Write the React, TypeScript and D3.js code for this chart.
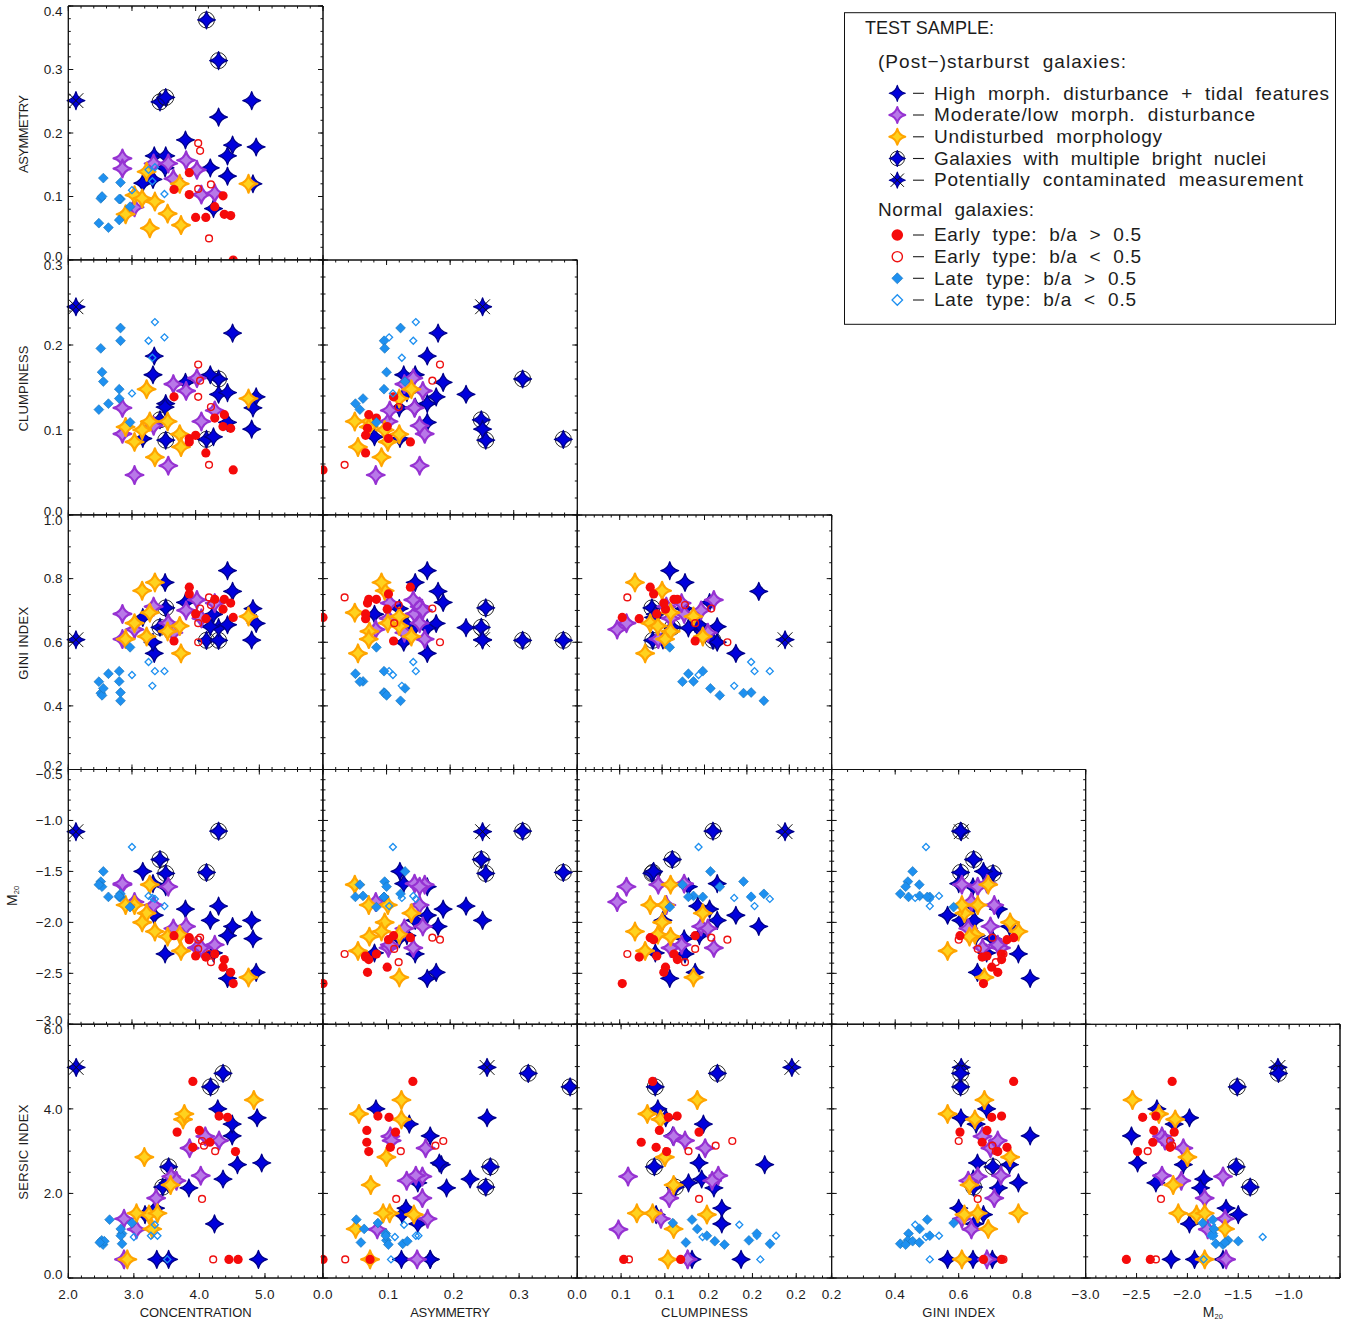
import { useEffect, useRef } from 'react';
import * as d3 from 'd3';

// galaxies are listed class by class, same order in every array
const classCounts: [string, number][] = [
	['contaminated', 1], ['nuclei', 4], ['high', 15], ['moderate', 10], ['undisturbed', 10],
	['earlyRound', 10], ['earlyThin', 5], ['lateRound', 10], ['lateThin', 5],
];

const concentration = [
	2.12,
	4.17, 4.36, 3.44, 3.53,
	4.88, 4.36, 3.84, 4.58, 4.95, 4.50, 3.35, 3.53, 4.23, 4.50, 3.52, 3.17, 3.33, 4.90, 4.28,
	2.85, 2.85, 3.34, 3.57, 3.85, 4.02, 3.65, 4.09, 4.30, 3.04,
	3.23, 3.04, 3.16, 3.36, 3.75, 4.83, 3.56, 2.90, 3.28, 3.77,
	3.90, 3.66, 3.90, 4.43, 4.30, 4.00, 4.16, 4.45, 4.55, 4.59,
	4.04, 4.07, 4.24, 4.04, 4.21,
	2.82, 2.82, 2.51, 2.53, 2.55, 2.80, 2.80, 2.63, 2.48, 2.97,
	3.00, 3.26, 3.36, 3.32, 3.51,
];
const asymmetry = [
	0.251,
	0.378, 0.314, 0.249, 0.256,
	0.251, 0.225, 0.189, 0.181, 0.178, 0.164, 0.164, 0.164, 0.145, 0.132, 0.145, 0.121, 0.127, 0.120, 0.081,
	0.160, 0.144, 0.152, 0.152, 0.157, 0.142, 0.128, 0.103, 0.105, 0.083,
	0.139, 0.102, 0.097, 0.092, 0.120, 0.120, 0.073, 0.072, 0.050, 0.055,
	0.1375, 0.111, 0.103, 0.101, 0.084, 0.067, 0.067, 0.072, 0.070, 0.0,
	0.184, 0.172, 0.119, 0.112, 0.034,
	0.122, 0.096, 0.097, 0.100, 0.129, 0.096, 0.063, 0.051, 0.058, 0.084,
	0.110, 0.142, 0.146, 0.124, 0.104,
];
const clumpiness = [
	0.245,
	0.089, 0.160, 0.112, 0.088,
	0.101, 0.142, 0.156, 0.214, 0.139, 0.109, 0.187, 0.131, 0.165, 0.144, 0.127, 0.090, 0.165, 0.126, 0.092,
	0.0955, 0.126, 0.105, 0.058, 0.146, 0.161, 0.154, 0.110, 0.123, 0.047,
	0.148, 0.086, 0.100, 0.068, 0.095, 0.137, 0.110, 0.1035, 0.110, 0.080,
	0.086, 0.139, 0.090, 0.104, 0.114, 0.0937, 0.073, 0.118, 0.102, 0.053,
	0.177, 0.158, 0.127, 0.139, 0.059,
	0.220, 0.205, 0.196, 0.168, 0.157, 0.148, 0.137, 0.131, 0.124, 0.109,
	0.143, 0.205, 0.227, 0.185, 0.209,
];
const gini = [
	0.608,
	0.606, 0.606, 0.647, 0.708,
	0.607, 0.646, 0.725, 0.760, 0.659, 0.825, 0.565, 0.645, 0.649, 0.655, 0.788, 0.678, 0.600, 0.706, 0.688,
	0.610, 0.689, 0.712, 0.660, 0.700, 0.733, 0.630, 0.675, 0.723, 0.640,
	0.618, 0.660, 0.762, 0.788, 0.651, 0.681, 0.634, 0.610, 0.693, 0.565,
	0.773, 0.604, 0.752, 0.704, 0.735, 0.689, 0.674, 0.735, 0.723, 0.678,
	0.600, 0.706, 0.717, 0.660, 0.741,
	0.416, 0.442, 0.440, 0.433, 0.455, 0.509, 0.477, 0.501, 0.476, 0.584,
	0.497, 0.538, 0.509, 0.463, 0.509,
];
const m20 = [
	-1.11,
	-1.51, -1.105, -1.383, -1.52,
	-1.98, -1.84, -1.87, -2.04, -2.49, -2.55, -1.93, -1.65, -1.98, -2.13, -2.31, -1.50, -1.62, -2.16, -2.30,
	-1.63, -1.62, -1.83, -1.65, -2.04, -2.25, -2.06, -2.25, -2.22, -1.80,
	-1.91, -1.83, -2.00, -2.09, -2.12, -2.54, -2.14, -1.83, -1.63, -2.28,
	-2.15, -2.13, -2.17, -2.44, -2.31, -2.33, -2.34, -2.365, -2.49, -2.60,
	-2.17, -2.15, -2.39, -2.26, -2.31,
	-1.72, -1.75, -1.60, -1.65, -1.50, -1.75, -1.74, -1.75, -1.63, -1.85,
	-1.26, -1.74, -1.77, -1.76, -1.84,
];
const sersic = [
	4.98,
	4.52, 4.84, 2.15, 2.63,
	3.79, 2.34, 2.13, 2.68, 2.72, 3.36, 0.44, 0.44, 1.28, 3.64, 2.25, 1.50, 1.65, 0.44, 4.00,
	1.40, 0.44, 1.89, 2.40, 3.07, 2.42, 2.30, 3.35, 3.25, 1.15,
	1.50, 1.53, 2.86, 1.53, 3.75, 4.21, 2.20, 0.44, 1.16, 3.88,
	4.65, 3.45, 3.09, 3.80, 3.83, 3.49, 3.21, 0.44, 2.99, 0.44,
	3.24, 3.13, 3.00, 1.87, 0.44,
	0.81, 1.05, 0.89, 0.79, 0.87, 1.00, 1.16, 1.38, 0.84, 1.30,
	0.97, 1.00, 1.00, 1.26, 0.44,
];

const kinds = classCounts.flatMap(([k, n]) => d3.range(n).map(() => k));

const colVars = [
	{ values: concentration, domain: [2, 6], last: [2, 5.885], major: d3.range(2, 6.01, 1), minor: d3.range(2, 6.01, 0.2), labels: ['2.0', '3.0', '4.0', '5.0', ''], title: 'CONCENTRATION', titleW: 112 },
	{ values: asymmetry, domain: [0, 0.4], last: [0, 0.389], major: d3.range(0, 0.401, 0.1), minor: d3.range(0, 0.401, 0.02), labels: ['0.0', '0.1', '0.2', '0.3', ''], title: 'ASYMMETRY', titleW: 80 },
	{ values: clumpiness, domain: [0, 0.3], last: [0, 0.2905], major: d3.range(0, 0.301, 0.05), minor: d3.range(0, 0.301, 0.01), labels: ['0.0', '0.1', '0.1', '0.2', '0.2', '0.2', ''], title: 'CLUMPINESS', titleW: 87 },
	{ values: gini, domain: [0.2, 1], last: [0.2, 1], major: d3.range(0.2, 1.01, 0.2), minor: d3.range(0.2, 1.01, 0.05), labels: ['0.2', '0.4', '0.6', '0.8', ''], title: 'GINI INDEX', titleW: 73 },
	{ values: m20, domain: [-3, -0.5], last: [-3, -0.5], major: d3.range(-3, -0.49, 0.5), minor: d3.range(-3, -0.49, 0.1), labels: ['\u22123.0', '\u22122.5', '\u22122.0', '\u22121.5', '\u22121.0', ''], title: 'M20', titleW: 0 },
];

const rowVars = [
	{ values: asymmetry, domain: [0, 0.4], major: d3.range(0, 0.401, 0.1), minor: d3.range(0, 0.401, 0.02), labels: ['0.0', '0.1', '0.2', '0.3', '0.4'], title: 'ASYMMETRY', titleH: 78 },
	{ values: clumpiness, domain: [0, 0.3], major: d3.range(0, 0.301, 0.1), minor: d3.range(0, 0.301, 0.02), labels: ['0.0', '0.1', '0.2', '0.3'], title: 'CLUMPINESS', titleH: 86 },
	{ values: gini, domain: [0.2, 1], major: d3.range(0.2, 1.01, 0.2), minor: d3.range(0.2, 1.01, 0.05), labels: ['0.2', '0.4', '0.6', '0.8', '1.0'], title: 'GINI INDEX', titleH: 73 },
	{ values: m20, domain: [-3, -0.5], major: d3.range(-3, -0.49, 0.5), minor: d3.range(-3, -0.49, 0.1), labels: ['\u22123.0', '\u22122.5', '\u22122.0', '\u22121.5', '\u22121.0', '\u22120.5'], title: 'M20', titleH: 0 },
	{ values: sersic, domain: [0, 6], major: d3.range(0, 6.01, 2), minor: d3.range(0, 6.01, 0.5), labels: ['0.0', '2.0', '4.0', '6.0'], title: 'SERSIC INDEX', titleH: 95 },
];

const colEdges = [68.3, 323, 577.3, 831.7, 1085.7, 1340];
const rowEdges = [6, 260, 515, 769.5, 1024.3, 1278];

const FONT = '"Liberation Sans", sans-serif';
const INK = '#1c1c1c';

// four pointed star with concave sides, for d3.symbol
const starType = {
	draw(ctx: any, size: number) {
		const r = Math.sqrt(size);
		const c = r * 0.2;
		ctx.moveTo(0, -r);
		ctx.quadraticCurveTo(c, -c, r, 0);
		ctx.quadraticCurveTo(c, c, 0, r);
		ctx.quadraticCurveTo(-c, c, -r, 0);
		ctx.quadraticCurveTo(-c, -c, 0, -r);
		ctx.closePath();
	},
};

const starStyle: Record<string, { fill: string; stroke: string; width: number }> = {
	high: { fill: '#0000dc', stroke: '#00008b', width: 1.3 },
	moderate: { fill: '#b878e8', stroke: '#9632d2', width: 2.2 },
	undisturbed: { fill: '#ffd21e', stroke: '#ffa500', width: 2.2 },
};

// the legend draws circles and diamonds bigger than the panels do
const legendDot: Record<string, number> = { earlyRound: 1.26, earlyThin: 1.5, lateRound: 1.12, lateThin: 1.5 };

function drawMark(g: any, kind: string, x: number, y: number, k = 1, dot = 1) {
	const m = g.append('g').attr('transform', `translate(${x},${y})`);
	const star = (style: { fill: string; stroke: string; width: number }) => m.append('path')
		.attr('d', d3.symbol().type(starType as any).size((8.9 * k) ** 2)())
		.attr('fill', style.fill)
		.attr('stroke', style.stroke)
		.attr('stroke-width', style.width * k)
		.attr('stroke-linejoin', 'round');

	if (kind === 'nuclei') {
		m.append('circle').attr('r', 8 * k).attr('fill', 'none').attr('stroke', '#111').attr('stroke-width', 0.9);
		star(starStyle.high);
	} else if (kind === 'contaminated') {
		star(starStyle.high);
		const d = 7.4 * k;
		[[-d, -d, d, d], [-d, d, d, -d]].forEach(l => {
			m.append('line').attr('x1', l[0]).attr('y1', l[1]).attr('x2', l[2]).attr('y2', l[3])
				.attr('stroke', '#111').attr('stroke-width', 1);
		});
	} else if (starStyle[kind]) {
		star(starStyle[kind]);
	} else if (kind === 'earlyRound') {
		m.append('circle').attr('r', 4.6 * dot).attr('fill', '#f50a0a');
	} else if (kind === 'earlyThin') {
		m.append('circle').attr('r', 3.4 * dot).attr('fill', 'none').attr('stroke', '#ee1111').attr('stroke-width', 1.4);
	} else if (kind === 'lateRound') {
		const d = 4.9 * dot;
		m.append('path')
			.attr('d', d3.symbol().type(d3.symbolSquare).size(2 * d * d)())
			.attr('transform', 'rotate(45)')
			.attr('fill', '#1e90f0').attr('stroke', '#1874b8').attr('stroke-width', 0.6);
	} else if (kind === 'lateThin') {
		const d = 3.5 * dot;
		m.append('path')
			.attr('d', d3.symbol().type(d3.symbolSquare).size(2 * d * d)())
			.attr('transform', 'rotate(45)')
			.attr('fill', 'none').attr('stroke', '#1e90f0').attr('stroke-width', 1.3);
	}
}

function label(g: any, text: string, x: number, y: number, size: number, anchor = 'start', width?: number) {
	const t = g.append('text')
		.attr('x', x).attr('y', y)
		.attr('font-family', FONT).attr('font-size', size)
		.attr('text-anchor', anchor).attr('fill', INK)
		.style('white-space', 'pre')
		.text(text);
	if (width) t.attr('textLength', width).attr('lengthAdjust', 'spacing');
	return t;
}

function m20Label(g: any, x: number, y: number) {
	const t = g.append('text').attr('font-family', FONT).attr('fill', INK).attr('text-anchor', 'middle')
		.attr('x', x).attr('y', y).attr('font-size', 14);
	t.append('tspan').text('M');
	t.append('tspan').attr('font-size', 7.5).attr('dy', 2).text('20');
	return t;
}

function edgeAxis(g: any, axis: any, scale: any, major: number[], minor: number[], tx: number, ty: number) {
	const [lo, hi] = scale.domain();
	[[minor, 2.5], [major, 5]].forEach(([vals, len]: any) => {
		g.append('g').attr('transform', `translate(${tx},${ty})`)
			.call(axis(scale).tickValues(vals.filter((v: number) => v >= lo - 1e-6 && v <= hi + 1e-6))
				.tickSize(-len).tickSizeOuter(0).tickFormat(() => '').offset(0))
			.call((a: any) => a.selectAll('line,path').attr('stroke', '#111').attr('stroke-width', 1));
	});
}

const legendRows = [
	{ kind: 'high', text: 'High  morph.  disturbance  +  tidal  features', w: 395, y: 93.3 },
	{ kind: 'moderate', text: 'Moderate/low  morph.  disturbance', w: 321, y: 115 },
	{ kind: 'undisturbed', text: 'Undisturbed  morphology', w: 228, y: 136.8 },
	{ kind: 'nuclei', text: 'Galaxies  with  multiple  bright  nuclei', w: 332, y: 158.5 },
	{ kind: 'contaminated', text: 'Potentially  contaminated  measurement', w: 369, y: 180.2 },
	{ kind: 'earlyRound', text: 'Early  type:  b/a  >  0.5', w: 207, y: 235 },
	{ kind: 'earlyThin', text: 'Early  type:  b/a  <  0.5', w: 207, y: 256.7 },
	{ kind: 'lateRound', text: 'Late  type:  b/a  >  0.5', w: 202, y: 278.3 },
	{ kind: 'lateThin', text: 'Late  type:  b/a  <  0.5', w: 202, y: 300 },
];

export default function App() {
	const svgRef = useRef<SVGSVGElement>(null);

	useEffect(() => {
		const svg = d3.select(svgRef.current);
		svg.selectAll('*').remove();

		rowVars.forEach((rv, r) => {
			colVars.forEach((cv, c) => {
				if (c > r) return;
				const x0 = colEdges[c], x1 = colEdges[c + 1];
				const y0 = rowEdges[r], y1 = rowEdges[r + 1];
				const x = d3.scaleLinear().domain(r === 4 ? cv.last : cv.domain).range([x0, x1]);
				const y = d3.scaleLinear().domain(rv.domain).range([y1, y0]);
				const g = svg.append('g');

				// white ground hides what the panel above left hanging over the edge
				g.append('rect').attr('x', x0).attr('y', y0).attr('width', x1 - x0).attr('height', y1 - y0).attr('fill', '#fff');

				const clipId = `clip-${r}-${c}`;
				g.append('clipPath').attr('id', clipId).append('rect')
					.attr('x', x0 - 2).attr('y', y0 - 12).attr('width', x1 - x0 + 14).attr('height', y1 - y0 + 24);
				const marks = g.append('g').attr('clip-path', `url(#${clipId})`);

				kinds.forEach((kind, i) => {
					drawMark(marks, kind, x(cv.values[i]), y(rv.values[i]));
				});

				edgeAxis(g, d3.axisBottom, x, cv.major, cv.minor, 0, y1);
				edgeAxis(g, d3.axisTop, x, cv.major, cv.minor, 0, y0);
				edgeAxis(g, d3.axisLeft, y, rv.major, rv.minor, x0, 0);
				edgeAxis(g, d3.axisRight, y, rv.major, rv.minor, x1, 0);

				if (c === 0) {
					rv.major.forEach((v, i) => {
						const shift = i === 0 ? -4 : i === rv.major.length - 1 ? 5 : 0;
						label(svg, rv.labels[i], 62.5, y(v) + shift + 4.7, 13.5, 'end');
					});
					if (rv.title === 'M20') {
						m20Label(svg, 0, 0).attr('transform', `translate(17,${(y0 + y1) / 2 - 1}) rotate(-90)`);
					} else {
						label(svg, rv.title, 0, 0, 13, 'middle', rv.titleH)
							.attr('transform', `translate(28,${(y0 + y1) / 2 + 1}) rotate(-90)`);
					}
				}
				if (r === 4) {
					cv.major.forEach((v, i) => {
						if (cv.labels[i]) label(svg, cv.labels[i], x(v), 1299, 13.5, 'middle').attr('letter-spacing', 0.4);
					});
					if (cv.title === 'M20') m20Label(svg, (x0 + x1) / 2, 1317);
					else label(svg, cv.title, (x0 + x1) / 2, 1317, 13, 'middle', cv.titleW);
				}
			});
		});

		// legend box
		const leg = svg.append('g');
		leg.append('rect').attr('x', 844.5).attr('y', 12.7).attr('width', 491).attr('height', 311.6)
			.attr('fill', '#fff').attr('stroke', '#111').attr('stroke-width', 1);
		label(leg, 'TEST SAMPLE:', 865, 34.2, 18, 'start', 129);
		label(leg, '(Post\u2212)starburst  galaxies:', 878, 68, 19, 'start', 248);
		label(leg, 'Normal  galaxies:', 878, 216, 19, 'start', 156);
		legendRows.forEach(row => {
			drawMark(leg, row.kind, 897.3, row.y, 0.9, legendDot[row.kind] ?? 1);
			leg.append('line').attr('x1', 913).attr('x2', 924).attr('y1', row.y).attr('y2', row.y)
				.attr('stroke', INK).attr('stroke-width', 1.1);
			label(leg, row.text, 934, row.y + 6.2, 19, 'start', row.w);
		});
	}, []);

	return <svg ref={svgRef} width={1354} height={1321} style={{ position: 'absolute', left: 0, top: 0, background: '#fff' }} />;
}
